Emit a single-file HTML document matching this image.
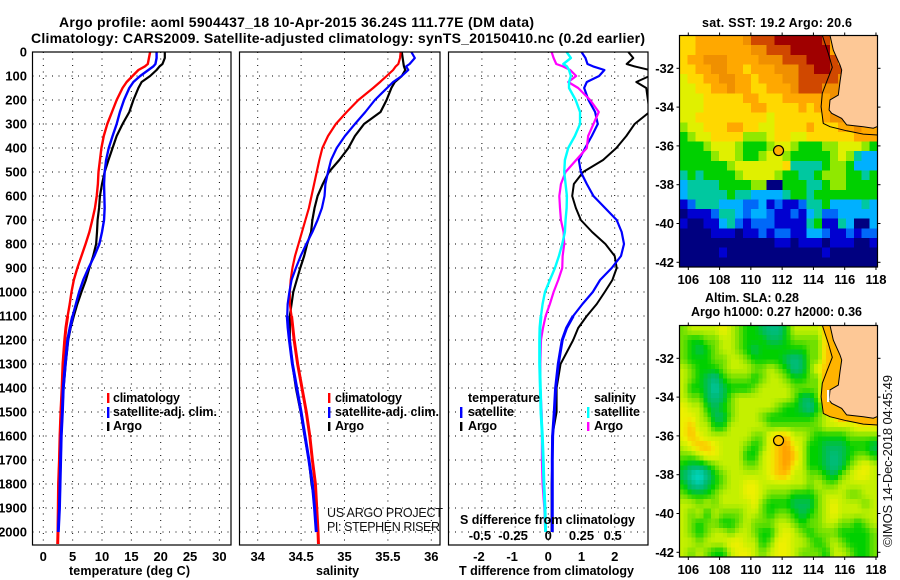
<!DOCTYPE html>
<html lang="en">
<head>
<meta charset="utf-8">
<title>Argo profile 5904437_18</title>
<style>
html,body{margin:0;padding:0;background:#fff;}
svg{display:block;font-family:"Liberation Sans",sans-serif;}
text{fill:#000;font-weight:700;}
.tl{font-size:14px;}
.lg{font-size:12.5px;}
.thin{font-weight:400;font-size:12.5px;fill:#111;}
.frame{fill:none;stroke:#000;stroke-width:1.2;}
</style>
</head>
<body>
<svg id="chart" xmlns="http://www.w3.org/2000/svg" width="900" height="580" viewBox="0 0 900 580">
  <defs>
    <clipPath id="clip-p1"><rect x="32.5" y="52" width="198.5" height="493"/></clipPath>
    <clipPath id="clip-p2"><rect x="239.5" y="52" width="200.5" height="493"/></clipPath>
    <clipPath id="clip-p3"><rect x="448.5" y="52" width="199.5" height="493"/></clipPath>
    <clipPath id="clip-m1"><rect x="679.5" y="35.5" width="198" height="231.5"/></clipPath>
    <clipPath id="clip-m2"><rect x="679.5" y="325.5" width="198" height="231.5"/></clipPath>
  </defs>
  <rect width="900" height="580" fill="#fff"/>

  <text class="tl" x="59" y="27" textLength="475">Argo profile: aoml 5904437_18 10-Apr-2015 36.24S 111.77E (DM data)</text>
  <text class="tl" x="31" y="43" textLength="614">Climatology: CARS2009. Satellite-adjusted climatology: synTS_20150410.nc (0.2d earlier)</text>

  <g id="grid-layer"></g>
  <g id="p1-lines" clip-path="url(#clip-p1)"></g>
  <g id="p2-lines" clip-path="url(#clip-p2)"></g>
  <g id="p3-lines" clip-path="url(#clip-p3)"></g>
  <g id="tick-layer"></g>

  <rect class="frame" x="32.5" y="52" width="198.5" height="493"/>
  <rect class="frame" x="239.5" y="52" width="200.5" height="493"/>
  <rect class="frame" x="448.5" y="52" width="199.5" height="493"/>

  <text class="lg" x="69" y="575" textLength="121">temperature (deg C)</text>
  <text class="lg" x="316" y="575">salinity</text>
  <text class="lg" x="459" y="575" textLength="175">T difference from climatology</text>
  <text class="lg" x="460" y="524" textLength="175">S difference from climatology</text>

  <g>
    <rect x="107" y="393" width="2.4" height="10" fill="#f00"/>
    <text class="lg" x="113" y="402" textLength="67">climatology</text>
    <rect x="107" y="407" width="2.4" height="11" fill="#00f"/>
    <text class="lg" x="113" y="416" textLength="104">satellite-adj. clim.</text>
    <rect x="107" y="422" width="2.4" height="9" fill="#000"/>
    <text class="lg" x="113" y="430" textLength="29">Argo</text>
  </g>
  <g>
    <rect x="328" y="393" width="2.4" height="10" fill="#f00"/>
    <text class="lg" x="335" y="402" textLength="67">climatology</text>
    <rect x="328" y="407" width="2.4" height="11" fill="#00f"/>
    <text class="lg" x="335" y="416" textLength="104">satellite-adj. clim.</text>
    <rect x="328" y="422" width="2.4" height="9" fill="#000"/>
    <text class="lg" x="335" y="430" textLength="29">Argo</text>
    <text class="thin" x="327" y="517" textLength="116">US ARGO PROJECT</text>
    <text class="thin" x="327" y="531" textLength="113">PI: STEPHEN RISER</text>
  </g>
  <g>
    <text class="lg" x="468" y="402" textLength="72">temperature</text>
    <rect x="460" y="407" width="2.4" height="11" fill="#00f"/>
    <text class="lg" x="468" y="416" textLength="46">satellite</text>
    <rect x="460" y="422" width="2.4" height="9" fill="#000"/>
    <text class="lg" x="468" y="430" textLength="29">Argo</text>
    <text class="lg" x="594" y="402" textLength="42">salinity</text>
    <rect x="587" y="407" width="2.4" height="11" fill="#0ff"/>
    <text class="lg" x="594" y="416" textLength="46">satellite</text>
    <rect x="587" y="422" width="2.4" height="9" fill="#f0f"/>
    <text class="lg" x="594" y="430" textLength="29">Argo</text>
  </g>

  <text class="lg" x="702" y="27" textLength="150">sat. SST: 19.2 Argo: 20.6</text>
  <g id="map1"></g>
  <text class="lg" x="705" y="302" textLength="94">Altim. SLA: 0.28</text>
  <text class="lg" x="691" y="316" textLength="171">Argo h1000: 0.27 h2000: 0.36</text>
  <g id="map2"></g>

  <text class="thin" transform="translate(892,547) rotate(-90)" textLength="172" style="font-size:13px">©IMOS 14-Dec-2018 04:45:49</text>
</svg>

<script>
var NS = 'http://www.w3.org/2000/svg';

/* ---------- profile data ---------- */
var depths = [0,25,50,60,75,100,125,150,200,250,300,350,400,450,500,550,600,650,700,750,800,850,900,950,1000,1050,1100,1150,1200,1300,1400,1500,1600,1700,1800,1900,2000,2050];

var tempClim = [18.2,18.0,17.8,17.3,16.2,15.2,14.2,13.5,12.5,11.7,10.9,10.3,9.9,9.65,9.4,9.3,9.1,8.8,8.35,7.85,7.2,6.5,5.8,5.2,4.8,4.5,4.15,3.85,3.65,3.35,3.2,3.0,2.85,2.75,2.6,2.55,2.5,2.45];
var tempSat = [19.3,19.3,19.1,18.75,17.9,16.5,15.35,14.65,13.75,13.05,12.5,11.8,11.15,10.7,10.45,10.35,10.4,10.45,10.35,10.0,9.55,8.7,7.7,6.8,6.1,5.55,5.0,4.55,4.15,3.75,3.4,3.25,3.05,2.95,2.85,2.75,2.55,null];
var tempArgo = [20.7,20.7,20.3,19.8,19.3,18.2,16.75,16.2,15.35,14.65,13.5,12.5,11.8,11.1,10.45,10.0,9.65,9.5,9.25,9.15,9.0,8.5,7.85,7.25,6.5,5.8,5.2,4.65,4.25,3.8,3.45,3.2,3.0,2.9,2.8,2.6,2.5,null];

var salClim = [35.647,35.64,35.62,35.59,35.56,35.486,35.41,35.33,35.16,35.025,34.90,34.81,34.745,34.71,34.68,34.65,34.62,34.59,34.55,34.51,34.47,34.43,34.40,34.38,34.37,34.37,34.39,34.405,34.42,34.46,34.51,34.56,34.60,34.63,34.665,34.68,34.695,34.70];
var salSat = [35.77,35.81,35.75,35.71,35.735,35.66,35.56,35.49,35.35,35.24,35.12,35.005,34.91,34.845,34.81,34.78,34.77,34.74,34.69,34.63,34.56,34.495,34.44,34.39,34.365,34.345,34.34,34.35,34.365,34.40,34.45,34.50,34.545,34.59,34.63,34.655,34.675,null];
var salArgo = [35.66,35.67,35.68,35.685,35.70,35.66,35.58,35.54,35.485,35.415,35.225,35.12,35.045,34.94,34.82,34.75,34.69,34.655,34.63,34.615,34.57,34.535,34.49,34.45,34.41,34.39,34.37,34.37,34.37,34.40,34.44,34.495,34.54,34.59,34.62,34.67,34.68,null];

var diffTempSat = [1.0,1.12,1.18,1.35,1.69,1.53,1.16,1.08,1.21,1.41,1.49,1.31,1.11,0.92,0.98,1.16,1.36,1.71,2.06,2.21,2.28,2.19,1.91,1.56,1.34,1.03,0.75,0.55,0.42,0.30,0.22,0.18,0.13,0.12,0.12,0.12,0.12,null];
var diffTempArgo = [2.41,2.56,2.36,2.6,3.05,3.05,2.65,2.95,3.0,3.05,2.6,2.35,2.05,1.65,1.05,0.77,0.72,0.83,0.98,1.32,1.72,2.0,2.06,1.93,1.7,1.46,1.16,0.9,0.75,0.37,0.25,0.25,0.12,0.12,0.10,0.10,0.10,null];
var diffSalSat = [0.138,0.17,0.113,0.14,0.156,0.17,0.156,0.156,0.206,0.239,0.239,0.2,0.15,0.125,0.12,0.13,0.14,0.138,0.13,0.125,0.105,0.08,0.05,0.012,-0.025,-0.043,-0.055,-0.063,-0.065,-0.065,-0.06,-0.055,-0.045,-0.038,-0.033,-0.025,-0.02,null];
var diffSalArgo = [0.025,0.04,0.06,0.11,0.165,0.21,0.15,0.225,0.315,0.38,0.34,0.30,0.29,0.21,0.13,0.095,0.083,0.088,0.095,0.115,0.12,0.108,0.105,0.075,0.04,0.012,-0.02,-0.04,-0.055,-0.06,-0.06,-0.05,-0.048,-0.048,-0.043,-0.03,-0.023,null];

/* ---------- tick labels ---------- */
var depthTicks = [0,100,200,300,400,500,600,700,800,900,1000,1100,1200,1300,1400,1500,1600,1700,1800,1900,2000];
var tempTicks = [0,5,10,15,20,25,30];
var salTicks = [34,34.5,35,35.5,36];
var diffTicks = [-2,-1,0,1,2];
var diffSalTicks = [-0.5,-0.25,0,0.25,0.5];
var lonTicks = [106,108,110,112,114,116,118];
var latTicks = [-32,-34,-36,-38,-40,-42];

/* ---------- map data: cells of about 0.5 degree, north to south, west to east ---------- */
var sstPalette = ['#000080','#0000d0','#0068f8','#00b0ff','#00c8a0','#00d000','#90e800','#e0f000','#ffd800','#ffa800','#f09000','#d04800','#a00000'];
var sstRows = [
[8,8,9,9,9,9,9,9,10,11,11,11,12,12,12,12,12,12,11,9,9,9,9,9,9],
[8,8,9,9,9,9,9,9,9,10,10,11,11,11,12,12,12,12,12,9,9,9,9,9,9],
[8,9,9,10,10,10,9,9,9,9,10,10,10,11,11,11,12,12,12,11,9,9,9,9,9],
[8,8,9,9,10,10,9,9,8,9,9,9,10,10,10,11,11,12,12,11,11,9,9,9,9],
[7,8,8,9,9,10,10,9,9,8,9,9,9,10,10,11,11,11,11,11,10,9,9,9,9],
[7,7,8,8,9,9,10,9,9,8,8,9,9,9,10,11,11,11,10,10,10,9,9,9,9],
[7,7,7,8,8,8,8,8,9,9,8,8,8,9,9,9,9,9,9,10,10,9,9,9,9],
[7,7,7,8,8,8,8,8,8,9,9,8,8,8,8,9,8,9,9,9,9,9,9,9,9],
[7,7,8,8,8,8,8,8,8,8,8,7,8,8,8,8,8,8,9,10,10,9,9,9,9],
[6,7,7,8,8,8,9,9,8,8,7,7,8,8,8,8,9,8,8,8,9,9,10,9,9],
[5,6,7,7,8,8,8,8,6,6,6,7,8,8,7,7,8,8,8,8,8,8,9,9,9],
[5,5,5,6,7,7,7,6,5,5,5,6,7,7,6,5,5,5,6,6,7,7,7,6,5],
[5,5,5,5,6,7,7,6,5,5,6,7,7,6,5,5,5,5,5,6,7,6,4,3,3],
[5,5,5,5,5,5,6,7,7,7,7,7,7,8,4,4,4,4,5,6,6,5,3,3,3],
[4,5,4,5,5,5,5,6,7,7,7,7,6,5,5,4,4,5,6,6,6,5,5,4,5],
[3,4,4,4,4,5,5,5,5,6,6,0,0,5,5,5,4,4,5,6,6,5,5,5,5],
[3,4,4,4,4,4,5,4,4,3,3,3,3,4,5,5,4,5,5,5,5,5,5,5,5],
[1,2,4,4,4,3,3,3,2,2,3,1,2,1,1,2,4,4,5,3,3,3,3,4,3],
[0,1,1,1,2,4,4,3,2,3,3,2,1,1,2,1,3,4,2,2,3,3,3,3,3],
[1,0,0,1,1,3,4,2,1,2,2,2,1,1,1,1,4,5,1,1,4,3,0,0,3],
[0,0,0,0,1,1,1,0,1,1,2,1,2,2,1,1,3,3,2,1,1,2,1,2,2],
[0,0,0,0,0,0,0,0,0,0,0,0,1,1,0,1,1,1,0,1,1,1,0,0,1],
[0,0,0,0,0,1,0,0,0,0,0,0,0,0,0,0,0,0,1,0,0,0,0,0,0],
[0,0,0,0,0,0,0,0,0,0,0,0,0,0,0,0,0,0,0,0,0,0,0,0,0]
];
var slaPalette = ['#00e0e0','#00d8c8','#00cca8','#00bc80','#00bc58','#00d000','#70e000','#c4f000','#eef000','#ffc000','#ff9800'];
var slaRows = [
[6,7,7,7,7,8,7,6,5,5,4,3,3,5,7,7,7,7,9,7,7,7,7,7,7],
[6,5,5,6,6,7,7,6,5,5,5,4,4,5,6,6,6,6,9,7,7,7,7,7,7],
[6,5,4,5,6,7,7,6,5,4,5,5,5,5,5,5,6,6,9,9,7,7,7,7,7],
[6,5,5,5,6,6,7,7,6,5,5,5,5,4,3,4,6,6,9,9,7,7,7,7,7],
[7,6,5,5,5,6,7,7,7,6,6,7,6,5,3,4,6,8,9,9,7,7,7,7,7],
[7,6,5,4,3,5,6,6,6,5,6,7,7,6,5,5,6,6,10,10,9,7,7,7,7],
[7,5,5,4,2,4,5,5,5,6,7,7,7,7,6,6,6,6,10,7,7,7,7,7,7],
[7,6,6,4,3,4,6,7,7,7,7,7,7,7,6,4,4,6,10,7,7,7,7,7,7],
[8,7,7,5,4,5,6,7,7,7,7,7,6,5,5,4,3,5,7,10,10,9,7,7,7],
[8,8,7,6,4,4,6,7,7,7,6,5,5,5,5,5,5,6,7,8,10,9,9,9,9],
[8,9,7,7,5,5,7,7,7,7,7,6,6,6,6,6,6,6,7,7,7,7,8,8,8],
[8,9,8,7,7,7,7,7,7,6,6,8,9,9,7,7,6,5,5,5,5,6,6,6,6],
[7,8,9,9,8,7,7,7,6,5,6,8,9,10,8,7,5,5,4,4,4,5,5,5,4],
[6,6,7,8,8,7,7,7,5,5,7,8,9,10,9,7,5,5,4,3,4,5,6,6,5],
[5,4,4,5,6,7,7,7,6,6,7,8,9,10,8,7,5,5,4,3,4,6,7,8,7],
[4,2,1,3,5,6,7,7,7,7,7,8,9,9,7,7,6,6,5,4,6,7,8,8,7],
[5,3,2,4,5,6,7,7,8,8,7,7,7,7,7,7,6,7,6,6,7,7,7,7,7],
[6,5,5,5,6,7,7,7,8,8,7,6,6,6,5,5,5,6,7,7,7,6,6,7,7],
[7,7,6,7,6,7,7,7,7,8,6,5,5,5,4,4,4,6,7,8,7,7,7,6,7],
[7,6,7,5,7,6,6,6,7,7,6,5,6,6,5,4,5,6,7,8,7,7,7,7,7],
[7,6,5,6,6,5,5,6,7,6,6,6,7,7,6,5,6,6,7,7,6,6,5,6,7],
[7,6,5,6,7,7,6,7,7,6,5,5,7,8,7,6,5,6,6,6,5,5,5,5,6],
[7,7,6,7,7,7,8,8,7,7,5,6,8,8,7,7,6,5,6,7,6,5,5,5,6],
[7,6,7,6,5,5,7,8,8,7,6,7,8,8,7,6,6,6,5,7,7,6,5,5,6]
];
var coastLon = [115.06,115.27,115.70,115.81,115.70,115.59,115.06,115.0,115.17,115.81,116.13,117.19,117.83,118.10];
var coastLat = [-30.3,-31.06,-31.83,-32.09,-32.69,-33.38,-33.63,-34.15,-34.32,-34.58,-34.92,-35.01,-35.09,-35.0];
var shelfLon = [114.57,114.95,115.21,114.85,114.57,114.49,114.63,115.06,116.13,117.19,118.10];
var shelfLat = [-30.3,-31.23,-31.95,-32.69,-33.29,-33.98,-34.84,-35.01,-35.22,-35.39,-35.44];
var floatLon = 111.77;
var floatLat = -36.24;

/* ---------- axis functions ---------- */
function yDepth(d){ return 52 + d * 0.24; }
function xTemp(t){ return 43.3 + t * 5.87; }
function xSal(s){ return 257.7 + (s - 34) * 86.8; }
function xDiff(v){ return 548.3 + v * 33.2; }
function xDiffSal(v){ return 548.3 + v * 132.8; }
function lonX(l){ return 688.3 + (l - 106) * 15.64; }
function latOffset(l){ return -(l + 32) * 19.4; }
var LON0 = 105.44, LON_STEP = 12.66 / 25, LAT0 = -30.31, LAT_STEP = 11.93 / 24;
var DEEP_FROM = 1100;

function make(tag, parent, attrs){
  var el = document.createElementNS(NS, tag);
  for (var k in attrs) el.setAttribute(k, attrs[k]);
  parent.appendChild(el);
  return el;
}

/* ---------- grid ---------- */
var gridLayer = document.getElementById('grid-layer');
function hGrid(x0, x1){
  depthTicks.forEach(function(d){
    if (d === 0) return;
    var el = make('line', gridLayer, {x1:x0, x2:x1, y1:yDepth(d), y2:yDepth(d), stroke:'#000', 'stroke-width':1, 'stroke-dasharray':'1 5.5'});
    
    
  });
}
function vGrid(ticks, fx){
  ticks.forEach(function(v){
    var el = make('line', gridLayer, {x1:fx(v), x2:fx(v), y1:52, y2:545, stroke:'#000', 'stroke-width':1, 'stroke-dasharray':'1 5.5'});
    
    
  });
}
hGrid(32.5, 231); hGrid(239.5, 440); hGrid(448.5, 648);
vGrid(tempTicks, xTemp); vGrid(salTicks, xSal); vGrid(diffTicks, xDiff);

/* ---------- tick labels ---------- */
var tickLayer = document.getElementById('tick-layer');
function label(parent, x, y, str, anchor){
  var el = make('text', parent, {x:x, y:y, 'text-anchor':anchor});
  el.textContent = str;
  el.style.fontSize = '13px';
  return el;
}
depthTicks.forEach(function(d){
  var el = label(tickLayer, 27, yDepth(d) + 4.5, String(d), 'end');
  
  
});
tempTicks.forEach(function(v){
  var el = label(tickLayer, xTemp(v), 561, String(v), 'middle');
  
  
});
salTicks.forEach(function(v){
  var el = label(tickLayer, xSal(v), 561, String(v), 'middle');
  
  
});
diffTicks.forEach(function(v){
  var el = label(tickLayer, xDiff(v) - (v < 0 ? 3 : 0), 561, String(v), 'middle');
  
  
});
diffSalTicks.forEach(function(v){
  var el = label(tickLayer, xDiffSal(v) - (v < 0 ? 2 : 0) - (v > 0.3 ? 2 : 0), 540, String(v), 'middle');
  
  
});

/* ---------- profile lines ---------- */
function pathFrom(values, fx, minDepth){
  var d = '', pen = false;
  values.forEach(function(v, i){
    if (v === null || depths[i] < minDepth) { pen = false; return; }
    d += (pen ? 'L' : 'M') + fx(v).toFixed(2) + ' ' + yDepth(depths[i]).toFixed(2);
    pen = true;
  });
  return d;
}
function drawLine(parent, values, fx, color, w, minDepth){
  return make('path', parent, {d:pathFrom(values, fx, minDepth), fill:'none', stroke:color, 'stroke-width':w, 'stroke-linejoin':'round'});
}
var p1 = document.getElementById('p1-lines');
var p2 = document.getElementById('p2-lines');
var p3 = document.getElementById('p3-lines');
var ln;
ln = drawLine(p1, tempArgo, xTemp, '#000', 2.2, 0);


ln = drawLine(p1, tempClim, xTemp, '#f00', 2.4, 0);


ln = drawLine(p1, tempClim, xTemp, '#f00', 3, DEEP_FROM);


ln = drawLine(p1, tempSat, xTemp, '#00f', 2.4, 0);


ln = drawLine(p1, tempSat, xTemp, '#00f', 3, DEEP_FROM);



ln = drawLine(p2, salArgo, xSal, '#000', 2.2, 0);


ln = drawLine(p2, salClim, xSal, '#f00', 2.2, 0);


ln = drawLine(p2, salClim, xSal, '#f00', 3, DEEP_FROM);


ln = drawLine(p2, salSat, xSal, '#00f', 2.2, 0);


ln = drawLine(p2, salSat, xSal, '#00f', 3, DEEP_FROM);



ln = drawLine(p3, diffTempArgo, xDiff, '#000', 2, 0);


ln = drawLine(p3, diffTempSat, xDiff, '#00f', 2.2, 0);


ln = drawLine(p3, diffTempSat, xDiff, '#00f', 3, DEEP_FROM);


ln = drawLine(p3, diffSalArgo, xDiffSal, '#f0f', 2.2, 0);


ln = drawLine(p3, diffSalSat, xDiffSal, '#0ff', 2.4, 0);


ln = drawLine(p3, diffSalSat, xDiffSal, '#0ff', 3, DEEP_FROM);



/* ---------- maps ---------- */
function hexToRgb(h){ return [parseInt(h.substr(1,2),16), parseInt(h.substr(3,2),16), parseInt(h.substr(5,2),16)]; }
function ramp(palette, v){
  var i = Math.max(0, Math.min(palette.length - 1.001, v));
  var f = Math.floor(i), t = i - f;
  var a = hexToRgb(palette[f]), b = hexToRgb(palette[f + 1]);
  return 'rgb(' + Math.round(a[0] + (b[0]-a[0])*t) + ',' + Math.round(a[1] + (b[1]-a[1])*t) + ',' + Math.round(a[2] + (b[2]-a[2])*t) + ')';
}
function mapFrame(group, top, clipId){
  var bottom = top + 231.5;
  function yLat(l){ return top + 32.8 + latOffset(l); }
  return { yLat:yLat, bottom:bottom, top:top, clip: make('g', group, {'clip-path':'url(#' + clipId + ')'}) };
}
function coastPath(m, lons, lats){
  return lons.map(function(l, i){ return (i ? 'L' : 'M') + lonX(l).toFixed(1) + ' ' + m.yLat(lats[i]).toFixed(1); }).join('');
}
function decorate(group, m, prefix, floatFill){
  var land = make('path', m.clip, {d:coastPath(m, coastLon, coastLat) + 'L' + lonX(118.2) + ' ' + m.yLat(-35) + 'L' + lonX(118.2) + ' ' + m.yLat(-30) + 'L' + lonX(115.06) + ' ' + m.yLat(-30) + 'Z', fill:'#fdc896'});
  
  
  var coast = make('path', m.clip, {d:coastPath(m, coastLon, coastLat), fill:'none', stroke:'#000', 'stroke-width':1});
  
  
  var shelf = make('path', m.clip, {d:coastPath(m, shelfLon, shelfLat), fill:'none', stroke:'#000', 'stroke-width':1});
  
  
  var marker = make('circle', m.clip, {cx:lonX(floatLon), cy:m.yLat(floatLat), r:5, fill:floatFill, stroke:'#000', 'stroke-width':1.2});
  
  
  var frame = make('rect', group, {x:679.5, y:m.top, width:198, height:231.5, fill:'none', stroke:'#000', 'stroke-width':1.2});
  
  
  lonTicks.forEach(function(l){
    var x = lonX(l);
    var t1 = make('line', group, {x1:x, x2:x, y1:m.top - 3, y2:m.top, stroke:'#000'});
    
    
    var t2 = make('line', group, {x1:x, x2:x, y1:m.bottom, y2:m.bottom + 3, stroke:'#000'});
    
    
    var lb = label(group, x, m.bottom + 17, String(l), 'middle');
    
    
  });
  latTicks.forEach(function(l){
    var y = m.yLat(l);
    var t1 = make('line', group, {x1:676.5, x2:679.5, y1:y, y2:y, stroke:'#000'});
    
    
    var t2 = make('line', group, {x1:877.5, x2:880.5, y1:y, y2:y, stroke:'#000'});
    
    
    var lb = label(group, 674, y + 4.5, String(l), 'end');
    
    
  });
}

/* SST map */
var g1 = document.getElementById('map1');
var m1 = mapFrame(g1, 35.5, 'clip-m1');
sstRows.forEach(function(row, j){
  row.forEach(function(v, k){
    var x = lonX(LON0 + k * LON_STEP), y = m1.yLat(LAT0 - j * LAT_STEP);
    var c = make('rect', m1.clip, {x:x.toFixed(2), y:y.toFixed(2), width:(LON_STEP * 15.64 + 0.4).toFixed(2), height:(LAT_STEP * 19.4 + 0.4).toFixed(2), fill:sstPalette[v], 'shape-rendering':'crispEdges'});
    
    
  });
});
decorate(g1, m1, 'sst', '#ffb000');

/* SLA map: each value is shaded across four sub-cells to keep the field smooth */
var g2 = document.getElementById('map2');
var m2 = mapFrame(g2, 325.5, 'clip-m2');
function slaAt(r, c){
  var j = Math.max(0, Math.min(slaRows.length - 1, r));
  var k = Math.max(0, Math.min(slaRows[0].length - 1, c));
  return slaRows[j][k];
}
for (var j2 = 0; j2 < slaRows.length * 2; j2++) {
  for (var k2 = 0; k2 < slaRows[0].length * 2; k2++) {
    var fr = (j2 + 0.5) / 2 - 0.5, fc = (k2 + 0.5) / 2 - 0.5;
    var r0 = Math.floor(fr), c0 = Math.floor(fc), tr = fr - r0, tc = fc - c0;
    var val = (slaAt(r0,c0)*(1-tc) + slaAt(r0,c0+1)*tc)*(1-tr) + (slaAt(r0+1,c0)*(1-tc) + slaAt(r0+1,c0+1)*tc)*tr;
    var cell = make('rect', m2.clip, {
      x:lonX(LON0 + k2 * LON_STEP / 2).toFixed(2),
      y:m2.yLat(LAT0 - j2 * LAT_STEP / 2).toFixed(2),
      width:(LON_STEP * 7.82 + 0.4).toFixed(2),
      height:(LAT_STEP * 9.7 + 0.4).toFixed(2),
      fill:ramp(slaPalette, val),
      'shape-rendering':'crispEdges'
    });
    
    
  }
}
var strip = make('path', m2.clip, {d:coastPath(m2, shelfLon, shelfLat) + 'L' + coastPath(m2, coastLon.slice().reverse(), coastLat.slice().reverse()).slice(1) + 'Z', fill:'#ffb400'});


decorate(g2, m2, 'sla', '#ffc400');
var gap = make('rect', m2.clip, {x:827, y:390, width:2.4, height:12, fill:'#fff'});


</script>
</body>
</html>
